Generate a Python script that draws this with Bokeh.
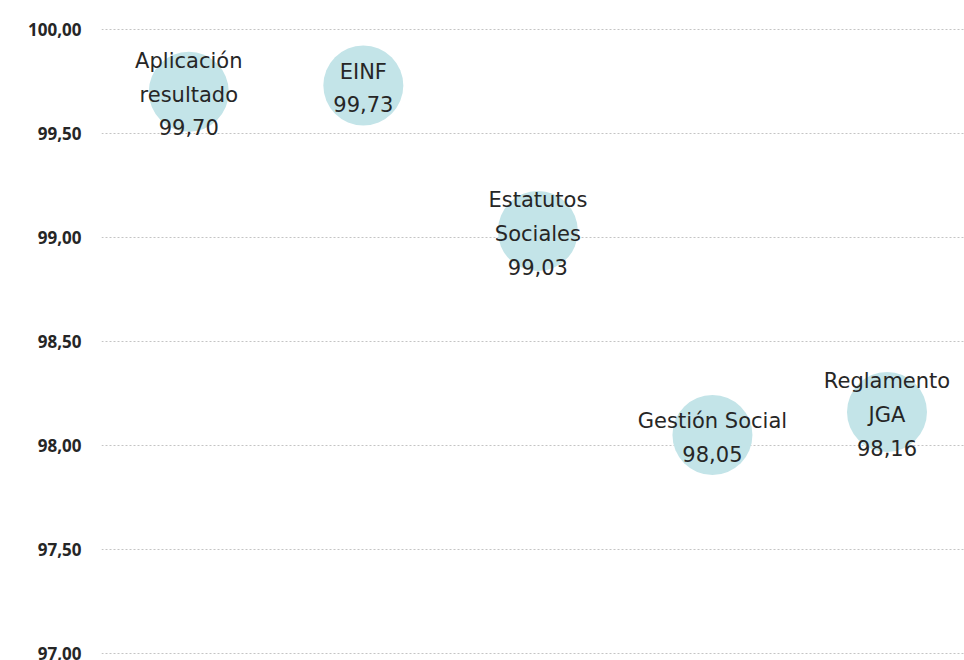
from bokeh.plotting import figure
from bokeh.models import ColumnDataSource, Range1d, FixedTicker, CustomJSTickFormatter
from bokeh.core.properties import value
from bokeh.embed import file_html
from bokeh.resources import INLINE

categories = ["Aplicación\nresultado", "EINF", "Estatutos\nSociales", "Gestión Social", "Reglamento\nJGA"]
values = [99.70, 99.73, 99.03, 98.05, 98.16]
y_ticks = [97.0, 97.5, 98.0, 98.5, 99.0, 99.5, 100.0]

xs = list(range(len(categories)))
labels = [f"{c}\n{v:.2f}".replace(".", ",") for c, v in zip(categories, values)]
src = ColumnDataSource(dict(x=xs, y=values, label=labels))

p = figure(width=964, height=660, output_backend="svg", toolbar_location=None,
           x_range=Range1d(-0.5, 4.444), y_range=Range1d(96.98, 100.1),
           min_border_left=101, min_border_right=0, min_border_top=8, min_border_bottom=3)
p.outline_line_color = None
p.background_fill_color = "white"
p.border_fill_color = "white"

p.xaxis.visible = False
p.xgrid.visible = False

ax = p.yaxis[0]
ax.ticker = FixedTicker(ticks=y_ticks)
ax.formatter = CustomJSTickFormatter(code="return tick.toFixed(2).replace('.', ',');")
ax.axis_line_color = None
ax.major_tick_line_color = None
ax.minor_tick_line_color = None
ax.major_tick_out = 0
ax.major_label_standoff = 20
ax.major_label_text_font = "Open Sans"
ax.major_label_text_font_size = "17px"
ax.major_label_text_font_style = "bold"
ax.major_label_text_color = "#262626"

p.ygrid.ticker = FixedTicker(ticks=y_ticks)
p.ygrid.grid_line_color = "#c4c4c4"
p.ygrid.grid_line_dash = "2 2"
p.ygrid.grid_line_width = 1

p.scatter("x", "y", source=src, size=80, marker="circle",
          fill_color="#c3e4e8", line_color=None)
p.text("x", "y", text="label", source=src, y_offset=3,
       text_font=value("DejaVu Sans"), text_font_size="21px",
       text_color="#262626", text_align="center", text_baseline="middle",
       text_line_height=1.4)

open("out.html", "w").write(file_html(p, INLINE))
